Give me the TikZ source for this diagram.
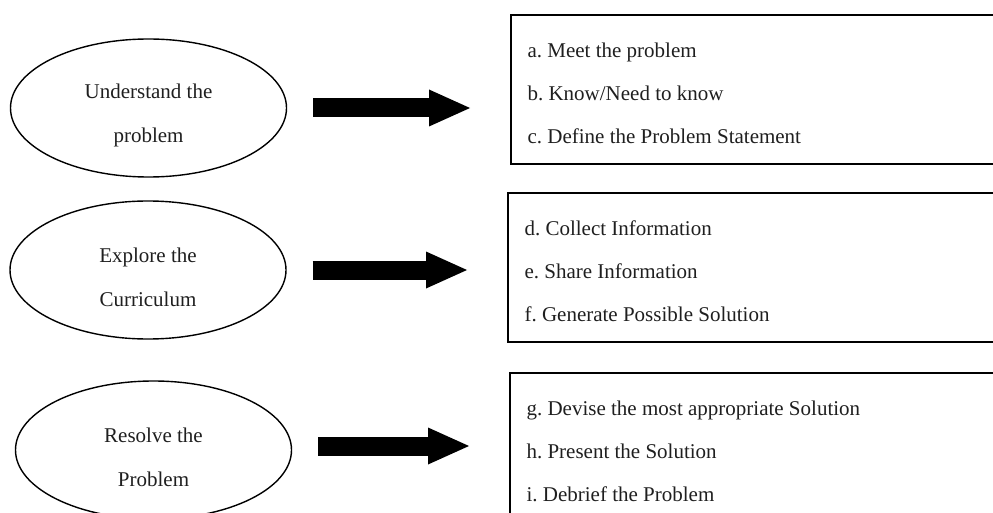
\documentclass[tikz,border=0pt]{standalone}
\usepackage{fontspec}
\setmainfont{Liberation Serif}
\frenchspacing
\usetikzlibrary{shapes.geometric,arrows.meta,positioning}

\tikzset{
  stage/.style={draw, ellipse, line width=1.4pt, minimum width=276pt, minimum height=138pt, inner sep=0pt},
  stagetext/.style={align=center, font=\fontsize{21}{44}\selectfont, text=black!88},
  actbox/.style={draw, line width=2pt, anchor=north west, minimum width=560pt, minimum height=149pt},
  acttext/.style={align=left, font=\fontsize{21}{43}\selectfont, text=black!88},
  bigarrow/.style={line width=19pt, -{Triangle[length=41pt,width=37pt,line width=0pt]}, shorten <=26pt, shorten >=40pt}
}

\begin{document}
\begin{tikzpicture}[x=1pt,y=-1pt]
\useasboundingbox (0,0) rectangle (993,513);
% stages
\node[stage] (stage1) at (148.5,108) {};
\node[stage] (stage2) at (148,270) {};
\node[stage] (stage3) at (153.5,450) {};
\node[stagetext] (name1) at ([yshift=-7pt]stage1.center) {Understand the\\problem};
\node[stagetext] (name2) at ([yshift=-7pt]stage2.center) {Explore the\\Curriculum};
\node[stagetext] (name3) at ([yshift=-7pt]stage3.center) {Resolve the\\Problem};
% activities
\node[actbox] (act1) at (510,14) {};
\node[actbox] (act2) at (507,192) {};
\node[actbox] (act3) at (509,372) {};
\node[acttext, right=14pt of act1.west, yshift=-4pt] (list1) {a. Meet the problem\\b. Know/Need to know\\c. Define the Problem Statement};
\node[acttext, right=14pt of act2.west, yshift=-4pt] (list2) {d. Collect Information\\e. Share Information\\f. Generate Possible Solution};
\node[acttext, right=14pt of act3.west, yshift=-4pt] (list3) {g. Devise the most appropriate Solution\\h. Present the Solution\\i. Debrief the Problem};
% arrows
\draw[bigarrow] (stage1.east) -- (stage1.east -| act1.west);
\draw[bigarrow] (stage2.east) -- (stage2.east -| act2.west);
\draw[bigarrow] ([yshift=4pt]stage3.east) -- ([yshift=4pt]stage3.east -| act3.west);
\end{tikzpicture}
\end{document}
